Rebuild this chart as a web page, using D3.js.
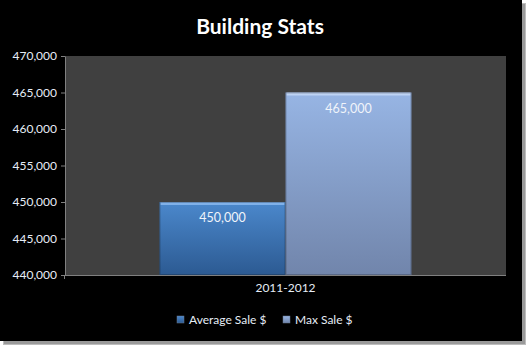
<!DOCTYPE html>
<html><head><meta charset="utf-8">
<script src="https://cdn.jsdelivr.net/npm/d3@7"></script>
<style>html,body{margin:0;padding:0;background:#fff;}svg{display:block;}</style>
</head><body>
<script>
const categories = ["2011-2012"];
const seriesNames = ["Average Sale $", "Max Sale $"];
const seriesValues = [[450000], [465000]];
const yTicks = [440000, 445000, 450000, 455000, 460000, 465000, 470000];
const title = "Building Stats";

const W = 526, H = 345;
const font = "Lato, 'Open Sans', sans-serif";
const svg = d3.select("body").append("svg").attr("width", W).attr("height", H);

// frame with shadow
svg.append("rect").attr("x",0).attr("y",0).attr("width",W).attr("height",H).attr("fill","#fff");
svg.append("rect").attr("x",3).attr("y",3).attr("width",W-3).attr("height",H-3).attr("fill","#bdbdbd");
svg.append("rect").attr("x",4).attr("y",4).attr("width",W-5).attr("height",H-5).attr("fill","#9a9a9a");
svg.append("rect").attr("x",0).attr("y",0).attr("width",522).attr("height",341).attr("fill","#000");

const m = {l:65, r:506, t:56, b:275};
const y = d3.scaleLinear().domain([440000,470000]).range([m.b, m.t]);
const x0 = d3.scaleBand().domain(categories).range([m.l, m.r]).paddingInner(0).paddingOuter(0.375);
const x1 = d3.scaleBand().domain(seriesNames).range([0, x0.bandwidth()]);

svg.append("rect").attr("x",m.l).attr("y",m.t).attr("width",m.r-m.l).attr("height",m.b-m.t).attr("fill","#404040");

const defs = svg.append("defs");
const grads = [["#4b88cc","#2c5a92"],["#97b5e4","#7185ab"]];
grads.forEach((g,i)=>{
  const lg = defs.append("linearGradient").attr("id","g"+i).attr("x1",0).attr("y1",0).attr("x2",0).attr("y2",1);
  lg.append("stop").attr("offset","0%").attr("stop-color",g[0]);
  lg.append("stop").attr("offset","100%").attr("stop-color",g[1]);
});
const tops = ["#8ab8ee","#c4d8f6"];

seriesNames.forEach((s,i)=>{
  categories.forEach((c,j)=>{
    const v = seriesValues[i][j];
    const bx = x0(c) + x1(s), bw = x1.bandwidth();
    const by = y(v), bh = y(440000) - y(v);
    svg.append("rect").attr("x",bx).attr("y",by).attr("width",bw).attr("height",bh).attr("fill","url(#g"+i+")");
    svg.append("rect").attr("x",bx+1).attr("y",by).attr("width",bw-2).attr("height",3).attr("fill",tops[i]).attr("opacity",0.85);
    svg.append("rect").attr("x",bx+0.5).attr("y",by+0.5).attr("width",bw-1).attr("height",bh-1).attr("fill","none").attr("stroke","rgba(0,0,0,0.22)").attr("stroke-width",1);
    svg.append("text").attr("x",bx+bw/2).attr("y",by+20).attr("text-anchor","middle")
      .attr("fill","#f0f4fa").attr("font-family",font).attr("font-size",12.5).text(d3.format(",")(v));
  });
});

// axes
const yAxis = svg.append("g").attr("transform",`translate(${m.l},0)`)
  .call(d3.axisLeft(y).tickValues(yTicks).tickFormat(d3.format(",")).tickSize(4).tickSizeOuter(0));
yAxis.select(".domain").attr("stroke","#808080");
yAxis.selectAll(".tick line").attr("stroke","#808080");
yAxis.selectAll("text").attr("fill","#e6edf7").attr("font-family",font).attr("font-size",12).attr("dx",-1);

const xAxis = svg.append("g").attr("transform",`translate(0,${m.b})`)
  .call(d3.axisBottom(x0).tickSize(0).tickSizeOuter(0));
xAxis.select(".domain").attr("stroke","#808080").attr("d",`M${m.l},0.5H${m.r}`);
xAxis.selectAll("text").attr("fill","#e6edf7").attr("font-family",font).attr("font-size",12).attr("dy","1.15em");
svg.append("line").attr("x1",m.l-0.5).attr("x2",m.l-0.5).attr("y1",m.b).attr("y2",m.b+4).attr("stroke","#808080");

// title
svg.append("text").attr("x",260).attr("y",34).attr("text-anchor","middle").attr("fill","#fff")
  .attr("font-family",font).attr("font-weight","bold").attr("font-size",21).text(title);

// legend
const legX = [177, 283];
seriesNames.forEach((s,i)=>{
  svg.append("rect").attr("x",legX[i]).attr("y",316).attr("width",7).attr("height",7).attr("fill","url(#g"+i+")").attr("stroke","#6a7a90").attr("stroke-width",0.5);
  svg.append("text").attr("x",legX[i]+12).attr("y",324).attr("fill","#e6edf7").attr("font-family",font).attr("font-size",12).text(s);
});
</script>
</body></html>
